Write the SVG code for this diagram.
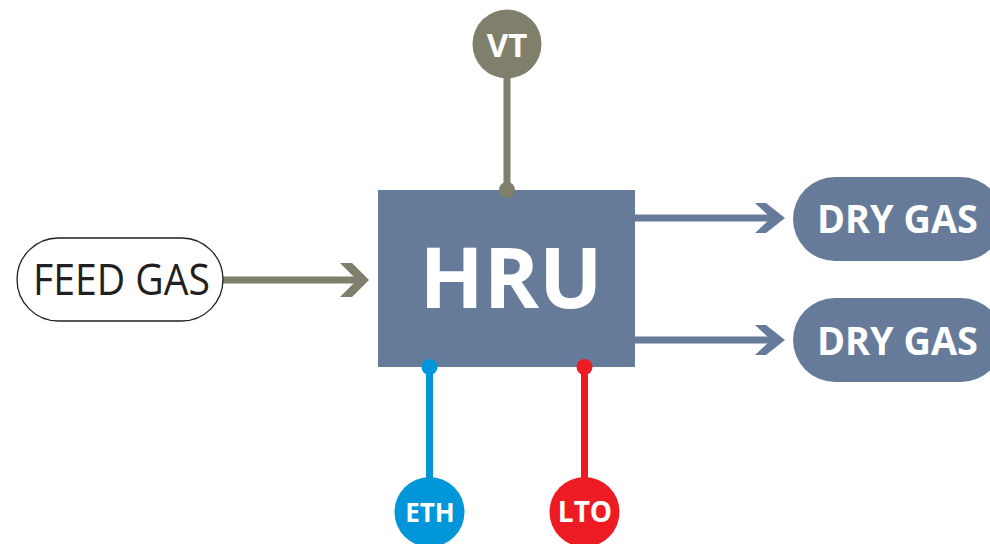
<svg xmlns="http://www.w3.org/2000/svg" width="990" height="544" viewBox="0 0 990 544">
<style>
.lbl{font-family:"Open Sans","Liberation Sans",sans-serif;font-weight:bold;fill:#ffffff;text-anchor:middle}
.gray{fill:#807f6c}
.slate{fill:#667b9a}
</style>
<rect width="990" height="544" fill="#ffffff"/>
<g id="connectors">
  <line x1="222" y1="280" x2="360" y2="280" stroke="#807f6c" stroke-width="7"/>
  <polygon class="gray" points="340,263 352,263 369,280 352,297 340,297 357,280"/>
  <line x1="635" y1="218" x2="778" y2="218" stroke="#667b9a" stroke-width="7"/>
  <polygon class="slate" points="755,203 766,203 785,218 766,233 755,233 771,218"/>
  <line x1="635" y1="340" x2="778" y2="340" stroke="#667b9a" stroke-width="7"/>
  <polygon class="slate" points="755,325 766,325 785,340 766,355 755,355 771,340"/>
  <line x1="507" y1="70" x2="507" y2="190" stroke="#807f6c" stroke-width="7"/>
  <line x1="429.5" y1="367" x2="429.5" y2="490" stroke="#0096d9" stroke-width="7"/>
  <line x1="584.5" y1="367" x2="584.5" y2="490" stroke="#ed1c24" stroke-width="7"/>
</g>
<g id="hru">
  <rect x="378" y="190" width="257" height="177" fill="#667b9a"/>
  <text class="lbl" x="511" y="308" font-size="84">HRU</text>
</g>
<g id="dots">
  <circle cx="507" cy="190" r="8" fill="#807f6c"/>
  <circle cx="429.5" cy="367" r="8" fill="#0096d9"/>
  <circle cx="584.5" cy="367" r="8" fill="#ed1c24"/>
</g>
<g id="feed-gas">
  <rect x="17" y="238" width="206" height="83" rx="41.5" fill="#ffffff" stroke="#231f20" stroke-width="1.3"/>
  <text x="33" y="295" font-family="'Open Sans','Liberation Sans',sans-serif" font-size="44" fill="#231f20" textLength="177" lengthAdjust="spacingAndGlyphs">FEED GAS</text>
</g>
<g id="dry-gas-1">
  <rect x="793" y="177" width="210" height="84" rx="42" fill="#667b9a"/>
  <text class="lbl" x="897.5" y="233" font-size="39" textLength="161" lengthAdjust="spacingAndGlyphs">DRY GAS</text>
</g>
<g id="dry-gas-2">
  <rect x="793" y="298" width="210" height="84" rx="42" fill="#667b9a"/>
  <text class="lbl" x="897.5" y="355" font-size="39" textLength="161" lengthAdjust="spacingAndGlyphs">DRY GAS</text>
</g>
<g id="vt">
  <circle cx="507" cy="44" r="34.5" fill="#807f6c"/>
  <text class="lbl" x="507" y="57" font-size="33">VT</text>
</g>
<g id="eth">
  <circle cx="429.5" cy="512" r="35" fill="#0096d9"/>
  <text class="lbl" x="430" y="522" font-size="26">ETH</text>
</g>
<g id="lto">
  <circle cx="584.5" cy="512" r="35" fill="#ed1c24"/>
  <text class="lbl" x="585" y="522" font-size="28">LTO</text>
</g>
</svg>
